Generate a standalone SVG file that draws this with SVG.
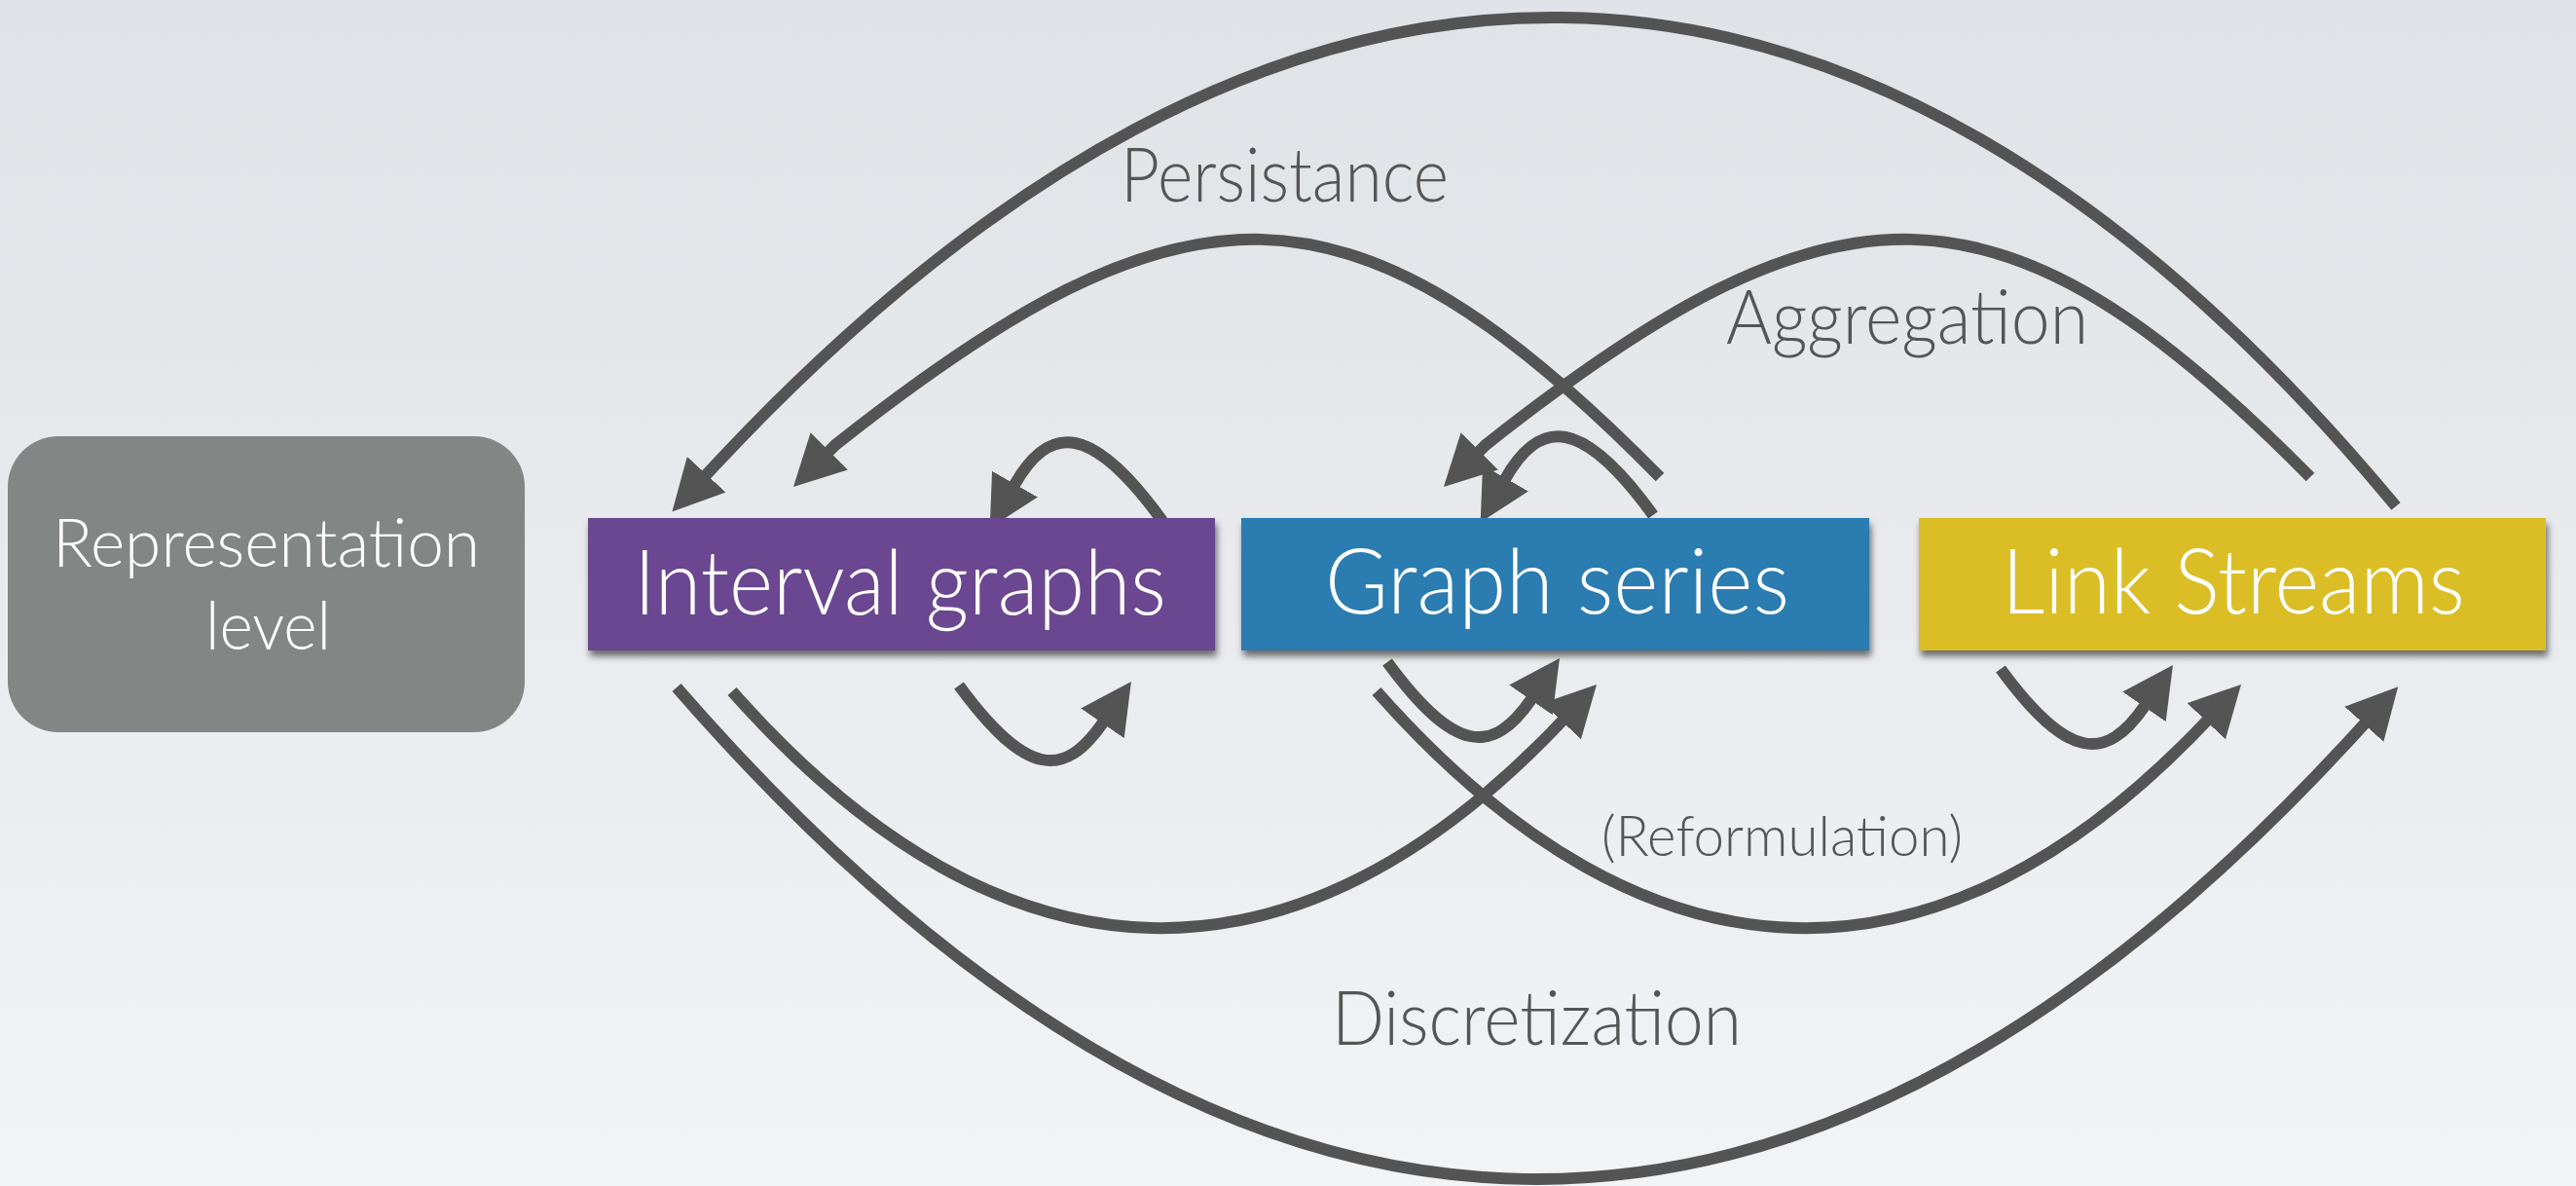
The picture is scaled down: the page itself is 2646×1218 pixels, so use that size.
<svg xmlns="http://www.w3.org/2000/svg" width="2646" height="1218" viewBox="0 0 2646 1218">
  <defs>
    <linearGradient id="bg" x1="0" y1="0" x2="0" y2="1">
      <stop offset="0" stop-color="#dfe2e6"/>
      <stop offset="1" stop-color="#f2f3f5"/>
    </linearGradient>
    <filter id="drop" x="-5%" y="-10%" width="110%" height="130%">
      <feDropShadow dx="2" dy="6" stdDeviation="3.5" flood-color="#000" flood-opacity="0.55"/>
    </filter>
    <marker id="ah" markerUnits="userSpaceOnUse" viewBox="0 0 52 54" markerWidth="52" markerHeight="54" refX="1" refY="27" orient="auto">
      <path d="M0,0 L52,27 L0,54 z" fill="#545454"/>
    </marker>
    <style>
      .box-text { font-family: Lato, "Open Sans", "Liberation Sans", sans-serif; font-weight: 300; fill: #ffffff; }
      .label { font-family: Lato, "Open Sans", "Liberation Sans", sans-serif; font-weight: 300; fill: #555555; }
      .edge { fill: none; stroke: #545454; stroke-width: 12; stroke-linecap: butt; stroke-linejoin: round; marker-end: url(#ah); }
    </style>
  </defs>

  <rect x="0" y="0" width="2646" height="1218" fill="url(#bg)"/>

  <!-- connectors -->
  <g id="connectors">
    <!-- Link Streams -> Interval graphs (outer, top) -->
    <path class="edge" d="M2461,520 C1910,-144 1309,-144 725,488"/>
    <!-- Graph series -> Interval graphs (Persistance) -->
    <path class="edge" d="M1705,490 C1385,165 1215,175 858,457 L851,464"/>
    <!-- Link Streams -> Graph series (Aggregation) -->
    <path class="edge" d="M2373,490 C2053,165 1883,175 1526,457 L1519,464"/>
    <!-- self loops above -->
    <path class="edge" d="M1194,535 c-73,-101 -116,-100 -152,-37"/>
    <path class="edge" d="M1698,529 c-73,-101 -116,-100 -152,-37"/>
    <!-- self loops below -->
    <path class="edge" d="M985,704 c69,94 108,96 148,38"/>
    <path class="edge" d="M1425,680 c69,94 108,96 148,38"/>
    <path class="edge" d="M2055,687 c69,94 108,96 148,38"/>
    <!-- Interval graphs -> Graph series -->
    <path class="edge" d="M752,710 C1034,1029 1332,1029 1605,740"/>
    <!-- Graph series -> Link Streams (Reformulation) -->
    <path class="edge" d="M1414,710 C1696,1029 1994,1029 2267,740"/>
    <!-- Interval graphs -> Link Streams (Discretization) -->
    <path class="edge" d="M695,706 C1276,1373 1859,1373 2429,743"/>

    <text class="label" x="1151" y="207" font-size="76" textLength="337" lengthAdjust="spacingAndGlyphs">Persistance</text>
    <text class="label" x="1773" y="353" font-size="76" textLength="372" lengthAdjust="spacingAndGlyphs">Aggregation</text>
    <text class="label" x="1645" y="879" font-size="58" textLength="371" lengthAdjust="spacingAndGlyphs">(Reformulation)</text>
    <text class="label" x="1368" y="1073" font-size="76" textLength="421" lengthAdjust="spacingAndGlyphs">Discretization</text>
  </g>

  <!-- nodes -->
  <g id="representation-level">
    <rect x="8" y="448" width="531" height="304" rx="52" ry="52" fill="#828785"/>
    <text class="box-text" x="54" y="582" font-size="68" textLength="439" lengthAdjust="spacingAndGlyphs">Representation</text>
    <text class="box-text" x="211" y="667" font-size="68" textLength="129" lengthAdjust="spacingAndGlyphs">level</text>
  </g>

  <g id="interval-graphs">
    <rect x="604" y="532" width="644" height="136" fill="#6a4690" filter="url(#drop)"/>
    <text class="box-text" x="651" y="631" font-size="93" textLength="547" lengthAdjust="spacingAndGlyphs">Interval graphs</text>
  </g>

  <g id="graph-series">
    <rect x="1275" y="532" width="645" height="136" fill="#2c7cb1" filter="url(#drop)"/>
    <text class="box-text" x="1361" y="630" font-size="93" textLength="477" lengthAdjust="spacingAndGlyphs">Graph series</text>
  </g>

  <g id="link-streams">
    <rect x="1971" y="532" width="644" height="136" fill="#dbbe26" filter="url(#drop)"/>
    <text class="box-text" x="2056" y="630" font-size="93" textLength="476" lengthAdjust="spacingAndGlyphs">Link Streams</text>
  </g>
</svg>
